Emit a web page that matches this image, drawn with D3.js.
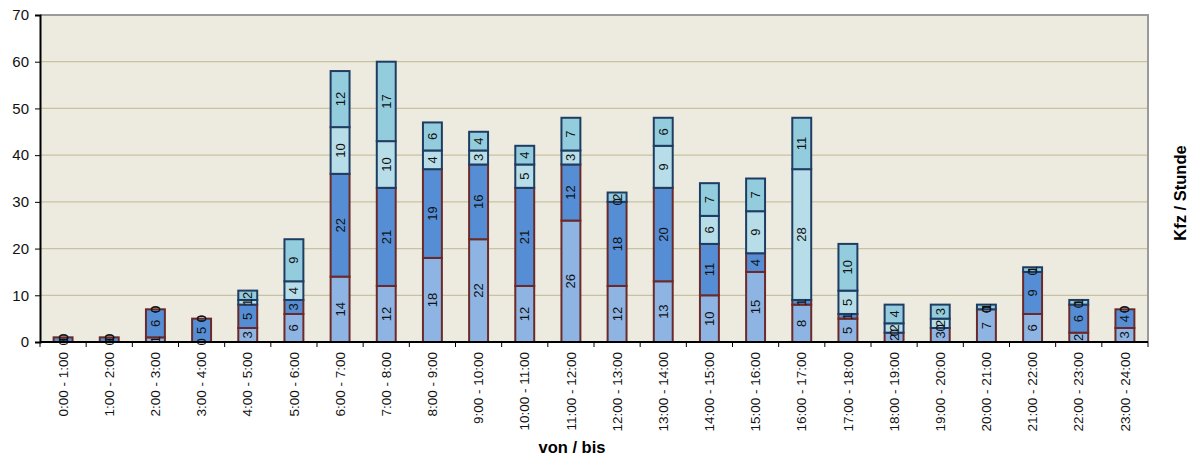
<!DOCTYPE html>
<html>
<head>
<meta charset="utf-8">
<script src="https://cdn.jsdelivr.net/npm/d3@7"></script>
<style>
  html, body { margin: 0; padding: 0; background: #ffffff; }
  svg { display: block; font-family: "Liberation Sans", Arial, sans-serif; }
</style>
</head>
<body>
<svg id="chart" width="1200" height="459"></svg>
<script>
// Hourly traffic counts (vehicles per hour), four stacked groups
const categories = [
  "0:00 - 1:00", "1:00 - 2:00", "2:00 - 3:00", "3:00 - 4:00", "4:00 - 5:00", "5:00 - 6:00",
  "6:00 - 7:00", "7:00 - 8:00", "8:00 - 9:00", "9:00 - 10:00", "10:00 - 11:00", "11:00 - 12:00",
  "12:00 - 13:00", "13:00 - 14:00", "14:00 - 15:00", "15:00 - 16:00", "16:00 - 17:00", "17:00 - 18:00",
  "18:00 - 19:00", "19:00 - 20:00", "20:00 - 21:00", "21:00 - 22:00", "22:00 - 23:00", "23:00 - 24:00"
];
const seriesA = [0, 0, 1, 0, 3, 6, 14, 12, 18, 22, 12, 26, 12, 13, 10, 15, 8, 5, 2, 3, 7, 6, 2, 3];
const seriesB = [1, 1, 6, 5, 5, 3, 22, 21, 19, 16, 21, 12, 18, 20, 11, 4, 1, 1, 0, 0, 0, 9, 6, 4];
const seriesC = [0, 0, 0, 0, 1, 4, 10, 10, 4, 3, 5, 3, 0, 9, 6, 9, 28, 5, 2, 2, 0, 0, 0, 0];
const seriesD = [0, 0, 0, 0, 2, 9, 12, 17, 6, 4, 4, 7, 2, 6, 7, 7, 11, 10, 4, 3, 1, 1, 1, 0];
const yTicks = [0, 10, 20, 30, 40, 50, 60, 70];

const seriesList = [
  { key: "a", values: seriesA, fill: "#8EB4E3", stroke: "#6B2A2A" },
  { key: "b", values: seriesB, fill: "#558ED5", stroke: "#6B2A2A" },
  { key: "c", values: seriesC, fill: "#B7DEE8", stroke: "#1F3D63" },
  { key: "d", values: seriesD, fill: "#93CDDD", stroke: "#1F3D63" }
];

const table = categories.map((c, i) => {
  const row = { cat: c };
  seriesList.forEach(s => { row[s.key] = s.values[i]; });
  return row;
});

const margin = { left: 40, right: 52, top: 15, bottom: 117 };
const W = 1200, H = 459;
const svg = d3.select("#chart");
const iw = W - margin.left - margin.right;
const ih = H - margin.top - margin.bottom;

const x = d3.scaleBand().domain(categories).range([margin.left, margin.left + iw]).paddingInner(0.59).paddingOuter(0.295);
const y = d3.scaleLinear().domain([0, 70]).range([margin.top + ih, margin.top]);

// Plot area
svg.append("rect")
  .attr("x", margin.left).attr("y", margin.top)
  .attr("width", iw).attr("height", ih)
  .attr("fill", "#EDEADF");

// Horizontal gridlines
svg.append("g").selectAll("line")
  .data(yTicks.filter(t => t > 0 && t < 70))
  .join("line")
  .attr("x1", margin.left).attr("x2", margin.left + iw)
  .attr("y1", d => y(d)).attr("y2", d => y(d))
  .attr("stroke", "#C9C2A2").attr("stroke-width", 1.2);

// Top and right frame
svg.append("path")
  .attr("d", `M${margin.left},${y(70)}H${margin.left + iw}V${y(0)}`)
  .attr("fill", "none").attr("stroke", "#9A9A9A").attr("stroke-width", 2);

// Stacked bars
const stack = d3.stack().keys(seriesList.map(s => s.key));
const stacked = stack(table);

const barsG = svg.append("g");
stacked.forEach((layer, li) => {
  const s = seriesList[li];
  barsG.append("g").selectAll("rect")
    .data(layer)
    .join("rect")
    .attr("x", d => x(d.data.cat))
    .attr("y", d => y(d[1]))
    .attr("width", x.bandwidth())
    .attr("height", d => y(d[0]) - y(d[1]))
    .attr("fill", s.fill)
    .attr("stroke", s.stroke)
    .attr("stroke-width", 2);
});

// Value labels, rotated, centred in each segment
const labelsG = svg.append("g");
stacked.forEach((layer, li) => {
  labelsG.append("g").selectAll("text")
    .data(layer)
    .join("text")
    .attr("transform", d => {
      const cx = x(d.data.cat) + x.bandwidth() / 2;
      const cy = (y(d[0]) + y(d[1])) / 2;
      return `translate(${cx},${cy}) rotate(-90)`;
    })
    .attr("text-anchor", "middle")
    .attr("dy", "0.35em")
    .attr("font-size", 13)
    .attr("fill", "#111")
    .text(d => d[1] - d[0]);
});

// Y axis
const yAxis = d3.axisLeft(y).tickValues(yTicks).tickSize(5).tickPadding(6);
const yG = svg.append("g").attr("transform", `translate(${margin.left},0)`).call(yAxis);
yG.select(".domain").attr("stroke", "#000").attr("stroke-width", 2);
yG.selectAll(".tick line").attr("stroke", "#000");
yG.selectAll(".tick text").attr("font-size", 15).attr("fill", "#111")
  .attr("font-family", "Liberation Sans, Arial, sans-serif");

// X axis with tick marks between categories
const xG = svg.append("g").attr("transform", `translate(0,${y(0)})`);
xG.append("line")
  .attr("x1", margin.left).attr("x2", margin.left + iw)
  .attr("stroke", "#000").attr("stroke-width", 2);
const step = x.step();
xG.selectAll("line.tk")
  .data(d3.range(categories.length + 1))
  .join("line")
  .attr("class", "tk")
  .attr("x1", i => margin.left + i * step).attr("x2", i => margin.left + i * step)
  .attr("y1", 0).attr("y2", 5)
  .attr("stroke", "#000");
xG.selectAll("text")
  .data(categories)
  .join("text")
  .attr("transform", d => `translate(${x(d) + x.bandwidth() / 2},10) rotate(-90)`)
  .attr("text-anchor", "end")
  .attr("dy", "0.35em")
  .attr("font-size", 13.5)
  .attr("fill", "#111")
  .text(d => d);

// Axis titles
svg.append("text")
  .attr("x", 572).attr("y", 453)
  .attr("text-anchor", "middle")
  .attr("font-size", 16.5).attr("font-weight", "bold")
  .text("von / bis");

svg.append("text")
  .attr("transform", "translate(1186,193) rotate(-90)")
  .attr("text-anchor", "middle")
  .attr("font-size", 16.5).attr("font-weight", "bold")
  .text("Kfz / Stunde");
</script>
</body>
</html>
